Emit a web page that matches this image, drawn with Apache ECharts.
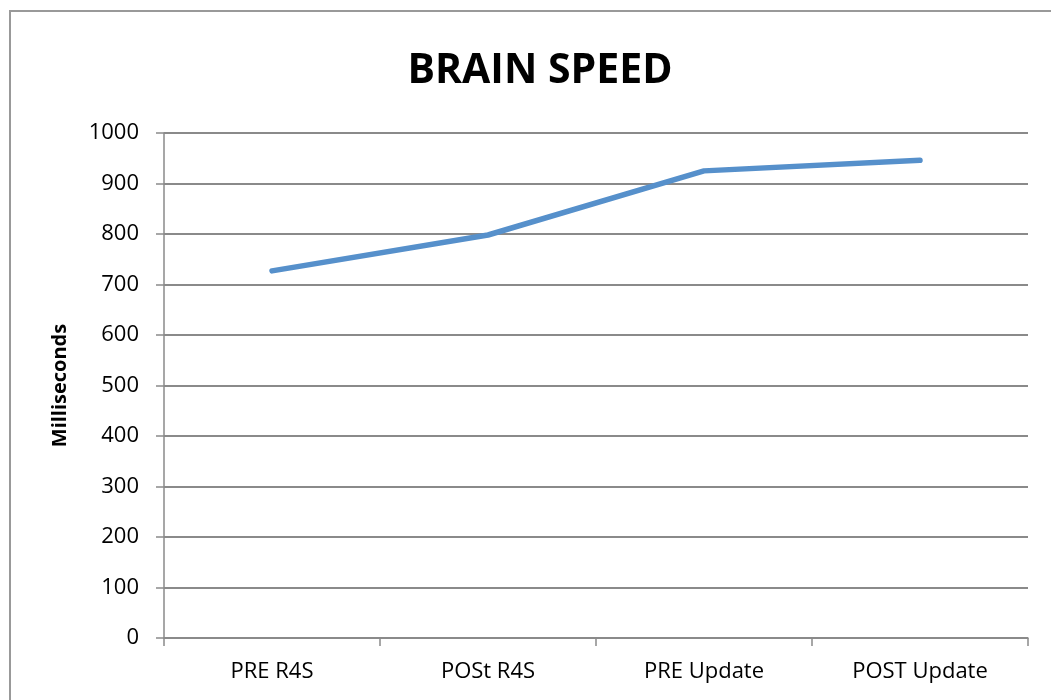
<!DOCTYPE html>
<html>
<head>
<meta charset="utf-8">
<style>
  html, body { margin: 0; padding: 0; background: #fff; }
  #chart { width: 1051px; height: 700px; }
</style>
<script src="https://cdn.jsdelivr.net/npm/echarts@6/dist/echarts.min.js"></script>
</head>
<body>
<div id="chart"></div>
<script>
// ----------data----------
const categories = ['PRE R4S', 'POSt R4S', 'PRE Update', 'POST Update'];
const brainSpeed = [727, 798, 925, 946];
const yTicks = { min: 0, max: 1000, interval: 100 };
// ------------------------

const FONT = "'Open Sans', sans-serif";
const GRAY = '#8a8a8a';

const chart = echarts.init(document.getElementById('chart'));

const option = {
  animation: false,
  backgroundColor: '#fff',
  graphic: [
    {
      type: 'rect',
      shape: { x: 10, y: 11, width: 1200, height: 900 },
      style: { fill: 'none', stroke: '#999', lineWidth: 2 },
      silent: true,
      z: -1,
    },
  ],
  title: {
    text: 'BRAIN SPEED',
    left: 535,
    textAlign: 'center',
    top: 46,
    textStyle: {
      fontFamily: FONT,
      fontSize: 41,
      fontWeight: 'bold',
      color: '#000',
    },
  },
  grid: {
    left: 164,
    right: 23,
    top: 133,
    bottom: 62,
  },
  xAxis: {
    type: 'category',
    data: categories,
    boundaryGap: true,
    axisLine: { lineStyle: { color: GRAY, width: 1.5 } },
    axisTick: { show: true, length: 8, interval: 0, lineStyle: { color: GRAY, width: 1.5 } },
    axisLabel: {
      margin: 23,
      interval: 0,
      fontFamily: FONT,
      fontSize: 22,
      color: '#000',
    },
    splitLine: { show: false },
  },
  yAxis: {
    type: 'value',
    min: yTicks.min,
    max: yTicks.max,
    interval: yTicks.interval,
    name: 'Milliseconds',
    nameLocation: 'middle',
    nameRotate: 90,
    nameGap: 94,
    nameTextStyle: {
      fontFamily: FONT,
      fontSize: 20,
      fontWeight: 'bold',
      color: '#000',
    },
    axisLine: { show: true, lineStyle: { color: GRAY, width: 1.5 } },
    axisTick: { show: true, length: 8, lineStyle: { color: GRAY, width: 1.5 } },
    axisLabel: {
      margin: 25,
      fontFamily: FONT,
      fontSize: 22,
      color: '#000',
      formatter: (v) => String(v),
    },
    splitLine: { show: true, lineStyle: { color: GRAY, width: 2 } },
  },
  series: [
    {
      name: 'Brain speed',
      type: 'line',
      data: brainSpeed,
      symbol: 'none',
      lineStyle: { color: '#5690CB', width: 5.5, cap: 'round', join: 'round' },
    },
  ],
};

chart.setOption(option);
</script>
</body>
</html>
